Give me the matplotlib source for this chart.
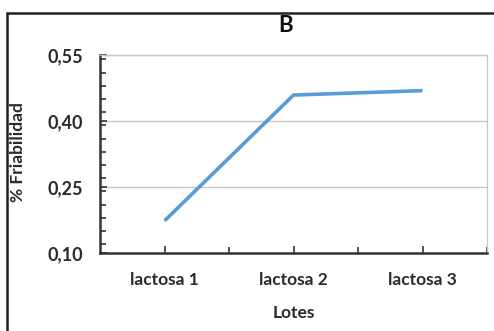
import matplotlib.pyplot as plt
from matplotlib.patches import Rectangle
from matplotlib.ticker import MultipleLocator, FixedLocator, FuncFormatter

lotes = ['lactosa 1', 'lactosa 2', 'lactosa 3']
friabilidad = [0.173, 0.459, 0.469]
y_ticks = [0.10, 0.25, 0.40, 0.55]

plt.rcParams['font.family'] = ['Lato', 'DejaVu Sans']

fig = plt.figure(figsize=(4.94, 3.31), dpi=100)
ax = fig.add_axes([100 / 494, 1 - 253 / 331, 387 / 494, 198 / 331])

x = list(range(1, len(lotes) + 1))
ax.plot(x, friabilidad, color='#5b9bd5', lw=2.6, solid_capstyle='butt', zorder=3)

ax.set_xlim(0.5, 3.5)
ax.set_ylim(0.10, 0.55)
ax.set_xticks(x)
ax.set_xticklabels(lotes)
ax.xaxis.set_minor_locator(FixedLocator([1.5, 2.5, 3.5]))
ax.set_yticks(y_ticks)
ax.yaxis.set_minor_locator(MultipleLocator(0.03))
ax.yaxis.set_major_formatter(FuncFormatter(lambda v, p: f'{v:.2f}'.replace('.', ',')))

ax.tick_params(which='both', direction='in', color='#333333', width=1.2)
ax.tick_params(which='major', length=5, labelsize=12.5, labelcolor='#2a2a2a')
ax.tick_params(which='minor', length=4)
ax.tick_params(axis='y', pad=12, labelsize=13)
ax.tick_params(axis='x', pad=14)
for lab in ax.get_xticklabels() + ax.get_yticklabels():
    lab.set_fontweight('bold')

ax.grid(axis='y', color='#c8c8c8', lw=1.0)
ax.set_axisbelow(True)
for s in ('left', 'bottom'):
    ax.spines[s].set_color('#333333')
    ax.spines[s].set_linewidth(1.8)
for s in ('top', 'right'):
    ax.spines[s].set_color('#c8c8c8')
    ax.spines[s].set_linewidth(1.0)

ax.set_xlabel('Lotes', fontsize=12.5, fontweight='bold', color='#2a2a2a', labelpad=12)
fig.text(18 / 494, 1 - 152 / 331, '% Friabilidad', rotation=90, ha='center', va='center',
         fontsize=12.5, fontweight='bold', color='#2a2a2a')
fig.text(286 / 494, 1 - 25 / 331, 'B', ha='center', va='center',
         fontsize=16, fontweight='bold', color='#111111')

# outer frame around the chart
fig.patches.append(Rectangle((7 / 494, -0.1), 1.2, 1 - 13 / 331 + 0.1, transform=fig.transFigure,
                             fill=False, edgecolor='#222222', lw=1.8))

fig.savefig('out.png', dpi=100)
